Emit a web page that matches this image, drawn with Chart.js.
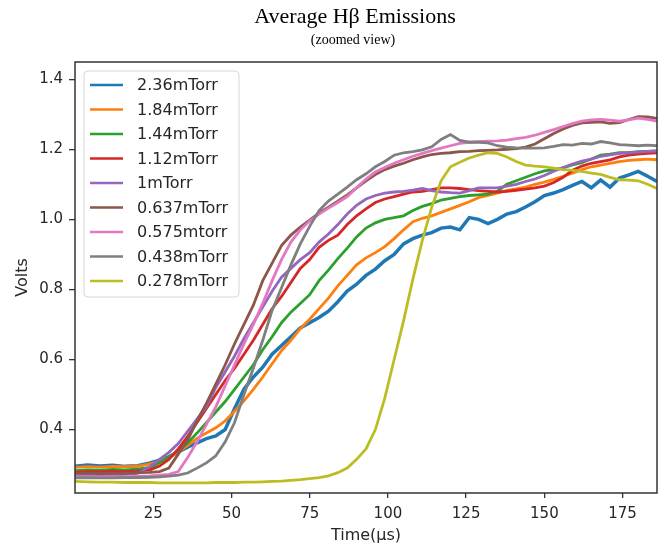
<!DOCTYPE html>
<html>
<head>
<meta charset="utf-8">
<script src="https://cdn.jsdelivr.net/npm/chart.js@4.4.0/dist/chart.umd.min.js"></script>
<style>
  html, body { margin: 0; padding: 0; background: #fff; }
</style>
</head>
<body>
<canvas id="chart-hbeta" width="659" height="548"></canvas>
<script>
// time axis (µs) shared by every trace
const times = [0,4,8,12,16,20,24,27,30,33,36,39,42,45,48,51,54,57,60,63,66,69,72,75,78,81,84,87,90,93,96,99,102,105,108,111,114,117,120,123,126,129,132,135,138,141,144,147,150,153,156,159,162,165,168,171,174,177,180,183,186];

const seriesNames = ["2.36mTorr", "1.84mTorr", "1.44mTorr", "1.12mTorr", "1mTorr", "0.637mTorr", "0.575mtorr", "0.438mTorr", "0.278mTorr"];
const seriesColors = ["#1f77b4", "#ff7f0e", "#2ca02c", "#d62728", "#9467bd", "#8c564b", "#e377c2", "#7f7f7f", "#bcbd22"];

const v236 = [0.295,0.299,0.296,0.298,0.295,0.297,0.305,0.313,0.322,0.336,0.350,0.362,0.374,0.382,0.400,0.460,0.515,0.550,0.578,0.615,0.640,0.665,0.690,0.705,0.720,0.738,0.765,0.795,0.815,0.840,0.858,0.882,0.900,0.930,0.945,0.955,0.962,0.975,0.978,0.970,1.005,1.000,0.988,1.000,1.015,1.022,1.035,1.050,1.068,1.075,1.085,1.097,1.108,1.090,1.112,1.092,1.118,1.127,1.137,1.123,1.108];
const v184 = [0.292,0.294,0.293,0.295,0.294,0.296,0.302,0.310,0.320,0.335,0.355,0.375,0.390,0.405,0.425,0.452,0.482,0.515,0.550,0.588,0.625,0.655,0.688,0.715,0.745,0.775,0.810,0.840,0.870,0.890,0.905,0.922,0.945,0.970,0.993,1.003,1.010,1.020,1.030,1.040,1.050,1.062,1.068,1.075,1.083,1.087,1.092,1.100,1.106,1.114,1.123,1.132,1.142,1.150,1.155,1.160,1.165,1.168,1.170,1.172,1.170];
const v144 = [0.283,0.285,0.284,0.286,0.285,0.287,0.292,0.305,0.322,0.340,0.362,0.390,0.420,0.450,0.480,0.515,0.550,0.585,0.628,0.665,0.705,0.735,0.760,0.785,0.825,0.855,0.888,0.918,0.950,0.975,0.990,1.000,1.005,1.010,1.025,1.037,1.045,1.055,1.060,1.065,1.068,1.070,1.072,1.080,1.100,1.110,1.120,1.130,1.138,1.142,1.147,1.155,1.162,1.172,1.183,1.186,1.190,1.190,1.193,1.194,1.195];
const v112 = [0.278,0.280,0.279,0.281,0.280,0.282,0.285,0.296,0.315,0.345,0.380,0.420,0.460,0.500,0.540,0.575,0.615,0.655,0.700,0.745,0.780,0.820,0.860,0.885,0.920,0.940,0.955,0.985,1.010,1.030,1.048,1.058,1.065,1.072,1.078,1.080,1.085,1.090,1.090,1.088,1.085,1.082,1.080,1.078,1.080,1.083,1.086,1.090,1.095,1.105,1.120,1.140,1.152,1.160,1.165,1.170,1.178,1.183,1.186,1.188,1.190];
const v100 = [0.268,0.270,0.268,0.270,0.272,0.275,0.295,0.315,0.335,0.360,0.395,0.430,0.466,0.520,0.565,0.610,0.660,0.705,0.750,0.795,0.835,0.860,0.885,0.905,0.935,0.958,0.985,1.015,1.040,1.058,1.068,1.075,1.078,1.080,1.083,1.088,1.082,1.078,1.076,1.075,1.082,1.090,1.090,1.090,1.095,1.100,1.108,1.115,1.125,1.137,1.148,1.158,1.166,1.172,1.180,1.184,1.188,1.190,1.192,1.194,1.195];
const v0637 = [0.275,0.276,0.274,0.276,0.275,0.277,0.278,0.280,0.290,0.330,0.370,0.425,0.475,0.530,0.585,0.645,0.700,0.755,0.825,0.875,0.925,0.955,0.978,0.998,1.018,1.035,1.052,1.070,1.090,1.110,1.128,1.142,1.152,1.160,1.170,1.178,1.185,1.188,1.190,1.193,1.194,1.196,1.197,1.198,1.200,1.202,1.206,1.215,1.230,1.245,1.258,1.268,1.275,1.277,1.278,1.274,1.276,1.285,1.293,1.292,1.288];
const v0575 = [0.265,0.266,0.265,0.266,0.265,0.267,0.268,0.270,0.272,0.280,0.320,0.365,0.415,0.465,0.525,0.585,0.645,0.700,0.760,0.825,0.885,0.935,0.970,0.995,1.015,1.032,1.048,1.065,1.090,1.115,1.135,1.148,1.160,1.170,1.180,1.188,1.196,1.203,1.210,1.217,1.220,1.222,1.223,1.224,1.226,1.230,1.234,1.240,1.248,1.256,1.265,1.273,1.280,1.284,1.285,1.283,1.280,1.284,1.289,1.285,1.280];
const v0438 = [0.262,0.263,0.262,0.262,0.263,0.263,0.264,0.265,0.267,0.270,0.276,0.290,0.305,0.325,0.365,0.420,0.500,0.575,0.655,0.740,0.805,0.870,0.930,0.980,1.025,1.052,1.072,1.092,1.113,1.130,1.150,1.165,1.183,1.190,1.193,1.198,1.207,1.228,1.242,1.225,1.220,1.220,1.218,1.210,1.206,1.204,1.203,1.203,1.204,1.208,1.213,1.212,1.217,1.215,1.222,1.218,1.213,1.212,1.210,1.212,1.210];
const v0278 = [0.252,0.251,0.250,0.250,0.249,0.249,0.249,0.248,0.248,0.248,0.248,0.248,0.248,0.249,0.249,0.249,0.250,0.250,0.251,0.252,0.253,0.255,0.257,0.260,0.263,0.268,0.277,0.290,0.315,0.345,0.400,0.490,0.600,0.710,0.830,0.940,1.035,1.110,1.150,1.163,1.175,1.183,1.190,1.188,1.178,1.165,1.155,1.152,1.150,1.146,1.142,1.140,1.137,1.132,1.128,1.120,1.113,1.112,1.110,1.100,1.088];

const seriesValues = [v236, v184, v144, v112, v100, v0637, v0575, v0438, v0278];

const xTicks = [25, 50, 75, 100, 125, 150, 175];
const yTicks = [0.4, 0.6, 0.8, 1.0, 1.2, 1.4];

const axisColor = "#333333";
const textColor = "#262626";

const datasets = seriesValues.map(function (vals, i) {
  return {
    label: seriesNames[i],
    data: vals.map(function (v, k) { return { x: times[k], y: v }; }),
    borderColor: seriesColors[i],
    backgroundColor: seriesColors[i],
    borderWidth: i === 0 ? 3.5 : 2.8,
    pointRadius: 0,
    tension: 0,
    order: seriesValues.length - 1 - i, // later series drawn on top, like matplotlib
  };
});

// title + subtitle in serif, above the plot
const titlePlugin = {
  id: "titleBlock",
  afterDraw(chart) {
    const ctx = chart.ctx;
    ctx.save();
    ctx.fillStyle = "#000";
    ctx.textAlign = "center";
    ctx.textBaseline = "middle";
    ctx.font = '22px "Liberation Serif"';
    ctx.fillText("Average Hβ Emissions", 355, 17);
    ctx.font = '14px "Liberation Serif"';
    ctx.fillText("(zoomed view)", 353, 40);
    ctx.restore();
  },
};

// box around the plot area
const framePlugin = {
  id: "frame",
  afterDatasetsDraw(chart) {
    const a = chart.chartArea;
    const ctx = chart.ctx;
    ctx.save();
    ctx.strokeStyle = axisColor;
    ctx.lineWidth = 1.5;
    ctx.strokeRect(a.left, a.top, a.right - a.left, a.bottom - a.top);
    ctx.restore();
  },
};

// matplotlib-style legend in the upper left corner
const legendPlugin = {
  id: "boxLegend",
  afterDraw(chart) {
    const ctx = chart.ctx;
    const x0 = 84, y0 = 71, w = 155, h = 226, r = 4;
    ctx.save();
    ctx.beginPath();
    ctx.moveTo(x0 + r, y0);
    ctx.arcTo(x0 + w, y0, x0 + w, y0 + h, r);
    ctx.arcTo(x0 + w, y0 + h, x0, y0 + h, r);
    ctx.arcTo(x0, y0 + h, x0, y0, r);
    ctx.arcTo(x0, y0, x0 + w, y0, r);
    ctx.closePath();
    ctx.fillStyle = "rgba(255,255,255,0.85)";
    ctx.fill();
    ctx.strokeStyle = "#d6d6d6";
    ctx.lineWidth = 1;
    ctx.stroke();

    ctx.font = '16px "DejaVu Sans"';
    ctx.textBaseline = "middle";
    ctx.textAlign = "left";
    chart.data.datasets.forEach(function (ds, i) {
      const y = 85 + i * 24.5;
      ctx.strokeStyle = ds.borderColor;
      ctx.lineWidth = 2.5;
      ctx.beginPath();
      ctx.moveTo(90, y);
      ctx.lineTo(123, y);
      ctx.stroke();
      ctx.fillStyle = textColor;
      ctx.fillText(ds.label, 137, y + 1);
    });
    ctx.restore();
  },
};

new Chart(document.getElementById("chart-hbeta"), {
  type: "line",
  data: { datasets: datasets },
  plugins: [titlePlugin, framePlugin, legendPlugin],
  options: {
    responsive: false,
    animation: false,
    devicePixelRatio: 1,
    layout: { padding: { top: 62, right: 2, left: 0, bottom: 0 } },
    plugins: {
      legend: { display: false },
      title: { display: false },
      tooltip: { enabled: false },
    },
    scales: {
      x: {
        type: "linear",
        min: 0,
        max: 186,
        afterFit(scale) { scale.height = 55; },
        afterBuildTicks(scale) { scale.ticks = xTicks.map(function (v) { return { value: v }; }); },
        border: { display: false },
        grid: { drawOnChartArea: false, drawTicks: true, tickLength: 5, color: axisColor, lineWidth: 1.3 },
        ticks: {
          color: textColor,
          font: { family: "DejaVu Sans", size: 15 },
          padding: 7,
          maxRotation: 0,
          autoSkip: false,
        },
        title: {
          display: true,
          text: "Time(μs)",
          color: textColor,
          font: { family: "DejaVu Sans", size: 16 },
          padding: { top: 0, bottom: 3 },
        },
      },
      y: {
        type: "linear",
        min: 0.219,
        max: 1.449,
        afterFit(scale) { scale.width = 75; },
        afterBuildTicks(scale) { scale.ticks = yTicks.map(function (v) { return { value: v }; }); },
        border: { display: false },
        grid: { drawOnChartArea: false, drawTicks: true, tickLength: 6, color: axisColor, lineWidth: 1.3 },
        ticks: {
          color: textColor,
          font: { family: "DejaVu Sans", size: 15 },
          padding: 6,
          callback: function (v) { return Number(v).toFixed(1); },
        },
        title: {
          display: true,
          text: "Volts",
          color: textColor,
          font: { family: "DejaVu Sans", size: 16 },
          padding: { top: 13, bottom: 0 },
        },
      },
    },
  },
});
</script>
</body>
</html>
